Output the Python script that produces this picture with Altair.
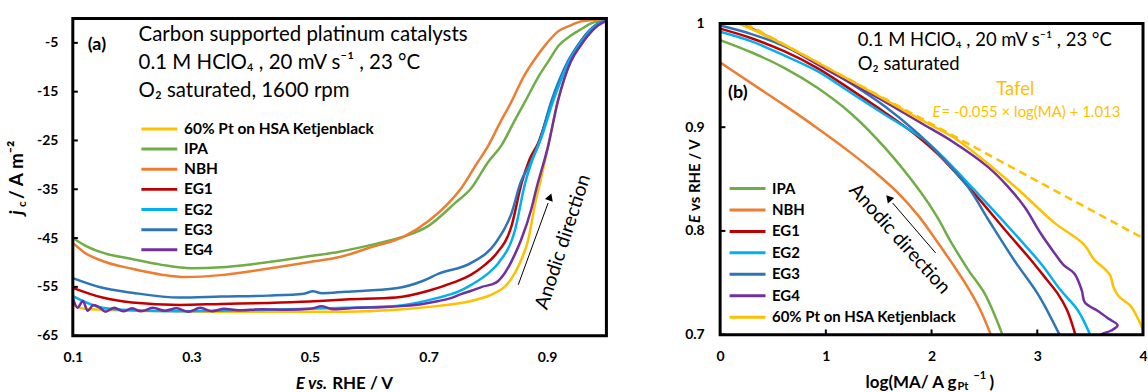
import altair as alt
import pandas as pd

FONT = "Lato"
C_PT, C_IPA, C_NBH = "#FFC000", "#70AD47", "#ED7D31"
C_EG1, C_EG2, C_EG3, C_EG4 = "#C00000", "#00B0F0", "#2E75B6", "#7030A0"
PT = "60% Pt on HSA Ketjenblack"

# ---------------- panel (a): E vs. RHE / V  and  j_c / A m^-2 ----------------
a_IPA_E = [0.100, 0.120, 0.150, 0.200, 0.250, 0.300, 0.350, 0.400, 0.450, 0.500, 0.550, 0.600, 0.650, 0.700,
           0.745, 0.772, 0.800, 0.823, 0.845, 0.863, 0.885, 0.902, 0.920, 0.940, 0.960, 0.974, 1.000]
a_IPA_j = [-45.0, -46.5, -48.0, -49.3, -50.5, -51.2, -51.0, -50.4, -49.6, -48.7, -47.8, -46.5, -45.0, -42.5,
           -37.8, -34.8, -29.5, -26.0, -21.0, -17.0, -12.0, -8.8, -5.5, -3.5, -2.0, -1.0, -0.3]
a_NBH_E = [0.100, 0.120, 0.150, 0.200, 0.250, 0.290, 0.350, 0.400, 0.450, 0.500, 0.550, 0.600, 0.660, 0.700,
           0.734, 0.755, 0.780, 0.801, 0.820, 0.840, 0.860, 0.880, 0.900, 0.918, 0.940, 0.957, 1.000]
a_NBH_j = [-46.0, -48.0, -49.7, -51.3, -52.5, -53.0, -52.6, -51.8, -50.9, -49.9, -48.9, -47.0, -44.6, -41.5,
           -37.8, -34.8, -30.0, -26.0, -21.5, -17.0, -12.0, -8.2, -5.0, -2.7, -1.4, -0.6, -0.1]
a_EG1_E = [0.100, 0.150, 0.200, 0.280, 0.350, 0.430, 0.500, 0.560, 0.645, 0.700, 0.740, 0.772, 0.795, 0.813,
           0.840, 0.857, 0.870, 0.885, 0.907, 0.935, 0.950, 0.964, 0.980, 1.000]
a_EG1_j = [-55.2, -57.2, -58.2, -58.7, -58.5, -58.3, -58.0, -57.6, -57.2, -55.8, -54.2, -52.5, -50.5, -48.4,
           -42.5, -33.7, -29.0, -25.5, -17.5, -9.0, -6.0, -3.5, -1.6, -0.4]
a_EG2_E = [0.100, 0.150, 0.200, 0.280, 0.350, 0.430, 0.500, 0.560, 0.645, 0.717, 0.750, 0.772, 0.800, 0.818,
           0.846, 0.863, 0.875, 0.890, 0.910, 0.937, 0.952, 0.966, 0.982, 1.000]
a_EG2_j = [-56.9, -59.3, -59.8, -60.0, -59.9, -59.7, -59.5, -59.3, -58.9, -57.2, -56.0, -54.6, -52.3, -50.1,
           -43.3, -33.7, -29.0, -24.5, -17.0, -8.8, -5.8, -3.5, -1.5, -0.4]
a_EG3_E = [0.100, 0.150, 0.200, 0.280, 0.350, 0.430, 0.490, 0.505, 0.520, 0.560, 0.645, 0.690, 0.717, 0.772,
           0.813, 0.840, 0.855, 0.870, 0.885, 0.907, 0.935, 0.950, 0.964, 0.980, 1.000]
a_EG3_j = [-53.2, -55.2, -56.2, -57.2, -57.0, -56.8, -56.4, -55.9, -56.3, -56.0, -55.3, -53.8, -52.3, -50.1,
           -46.0, -39.9, -33.7, -30.0, -26.0, -17.0, -8.8, -5.8, -3.5, -1.5, -0.3]
a_EG4_E = [0.100, 0.108, 0.117, 0.125, 0.135, 0.145, 0.155, 0.170, 0.185, 0.200, 0.215, 0.235, 0.255, 0.275,
           0.295, 0.315, 0.335, 0.355, 0.380, 0.420, 0.460, 0.500, 0.520, 0.540, 0.580, 0.620, 0.660, 0.690,
           0.717, 0.740, 0.755, 0.772, 0.790, 0.813, 0.829, 0.845, 0.856, 0.873, 0.882, 0.902, 0.918, 0.940,
           0.955, 0.969, 0.985, 1.000]
a_EG4_j = [-57.2, -59.3, -57.9, -59.9, -58.7, -59.2, -60.1, -59.3, -60.0, -59.4, -60.0, -59.3, -59.9, -59.4,
           -60.1, -59.3, -60.0, -59.5, -59.8, -59.6, -59.7, -59.5, -59.0, -59.6, -59.3, -59.2, -58.9, -58.5,
           -57.9, -57.2, -56.5, -55.8, -55.0, -54.2, -52.1, -48.5, -45.4, -39.2, -34.8, -26.0, -17.0, -8.8,
           -5.8, -3.5, -1.5, -0.5]
a_PT_E = [0.100, 0.120, 0.150, 0.200, 0.280, 0.350, 0.450, 0.560, 0.645, 0.717, 0.772, 0.813, 0.830, 0.846,
          0.858, 0.868, 0.881, 0.888, 0.902, 0.918, 0.940, 0.955, 0.969, 0.985, 1.000]
a_PT_j = [-58.7, -59.5, -59.7, -59.9, -60.0, -60.1, -60.1, -60.1, -59.7, -58.9, -57.9, -56.2, -54.8, -52.1,
          -49.0, -45.4, -37.2, -33.7, -26.0, -17.0, -8.8, -5.8, -3.5, -1.5, -0.5]

A_ORDER = [PT, "IPA", "NBH", "EG1", "EG2", "EG3", "EG4"]
A_COLORS = [C_PT, C_IPA, C_NBH, C_EG1, C_EG2, C_EG3, C_EG4]
A_X_TICKS = [0.1, 0.3, 0.5, 0.7, 0.9]
A_Y_TICKS = [-65, -55, -45, -35, -25, -15, -5]

# ---------------- panel (b): log(MA) and E vs RHE / V ----------------
b_IPA_L = [0.00, 0.30, 0.61, 0.92, 1.24, 1.56, 1.90, 2.05, 2.18, 2.35, 2.50, 2.60, 2.67]
b_IPA_E = [0.984, 0.972, 0.957, 0.938, 0.913, 0.880, 0.837, 0.814, 0.790, 0.762, 0.740, 0.718, 0.700]
b_NBH_L = [0.00, 0.30, 0.61, 0.92, 1.24, 1.46, 1.68, 1.88, 2.05, 2.20, 2.34, 2.46, 2.56]
b_NBH_E = [0.9625, 0.942, 0.921, 0.899, 0.875, 0.857, 0.837, 0.814, 0.790, 0.768, 0.746, 0.724, 0.700]
b_EG1_L = [0.00, 0.29, 0.61, 0.92, 1.24, 1.56, 1.87, 2.06, 2.37, 2.72, 2.94, 3.09, 3.19, 3.28, 3.36]
b_EG1_E = [0.995, 0.986, 0.973, 0.957, 0.936, 0.914, 0.891, 0.874, 0.840, 0.798, 0.772, 0.753, 0.740, 0.724, 0.700]
b_EG2_L = [0.00, 0.29, 0.61, 0.92, 1.24, 1.56, 1.93, 2.10, 2.40, 2.78, 3.03, 3.22, 3.38, 3.50]
b_EG2_E = [0.992, 0.983, 0.969, 0.954, 0.933, 0.912, 0.888, 0.872, 0.840, 0.798, 0.769, 0.743, 0.724, 0.700]
b_EG3_L = [0.00, 0.29, 0.61, 0.92, 1.24, 1.56, 1.87, 2.06, 2.34, 2.53, 2.78, 3.00, 3.10, 3.21]
b_EG3_E = [0.998, 0.990, 0.978, 0.962, 0.942, 0.920, 0.894, 0.875, 0.843, 0.812, 0.772, 0.740, 0.722, 0.700]
b_EG4_L = [0.19, 0.50, 1.00, 1.50, 1.90, 2.20, 2.53, 2.72, 2.88, 3.03, 3.16, 3.25, 3.35, 3.42, 3.45, 3.57,
           3.68, 3.76, 3.70, 3.62, 3.60]
b_EG4_E = [1.000, 0.985, 0.956, 0.928, 0.904, 0.886, 0.862, 0.843, 0.823, 0.798, 0.779, 0.767, 0.759, 0.743,
           0.731, 0.723, 0.715, 0.709, 0.704, 0.701, 0.700]
b_PT_L = [0.17, 0.50, 1.00, 1.50, 1.90, 2.21, 2.53, 2.84, 3.16, 3.44, 3.54, 3.62, 3.69, 3.72, 3.77, 3.88, 3.94, 4.00]
b_PT_E = [1.000, 0.985, 0.958, 0.930, 0.907, 0.890, 0.865, 0.838, 0.808, 0.787, 0.772, 0.765, 0.757, 0.746,
          0.737, 0.728, 0.718, 0.705]
b_TAFEL_L = [0.24, 4.00]
b_TAFEL_E = [1.000, 0.793]

B_ORDER = ["IPA", "NBH", "EG1", "EG2", "EG3", "EG4", PT]
B_COLORS = [C_IPA, C_NBH, C_EG1, C_EG2, C_EG3, C_EG4, C_PT]
B_X_TICKS = [0, 1, 2, 3, 4]
B_Y_TICKS = [0.7, 0.8, 0.9, 1.0]


def long_df(series, xname, yname):
    rows = []
    for name, (xs, ys) in series.items():
        for i, (x, y) in enumerate(zip(xs, ys)):
            rows.append({"series": name, xname: x, yname: y, "idx": i})
    return pd.DataFrame(rows)


ONE = pd.DataFrame({"a": [0]})
LBL = dict(labelFont=FONT, labelFontSize=14, labelFontWeight="bold", labelColor="black", labelFlush=False,
           labelOverlap=False, title=None, grid=False, domain=False, ticks=False)

# ======================= panel (a) =======================
df_a = long_df({PT: (a_PT_E, a_PT_j), "IPA": (a_IPA_E, a_IPA_j), "NBH": (a_NBH_E, a_NBH_j),
                "EG1": (a_EG1_E, a_EG1_j), "EG3": (a_EG3_E, a_EG3_j), "EG2": (a_EG2_E, a_EG2_j),
                "EG4": (a_EG4_E, a_EG4_j)}, "E", "j")

XA = alt.Scale(domain=[0.1, 1.0], nice=False, zero=False)
YA = alt.Scale(domain=[-65, 0], nice=False, zero=False)
AX_XA = alt.Axis(values=A_X_TICKS, format=".1f", labelPadding=15, **LBL)
AX_YA = alt.Axis(values=A_Y_TICKS, labelExpr="'' + datum.value", labelPadding=15, **LBL)


def xa(f):
    return alt.X(f, type="quantitative", scale=XA, axis=AX_XA)


def ya(f):
    return alt.Y(f, type="quantitative", scale=YA, axis=AX_YA)


leg_a = alt.Legend(orient="none", legendX=79, legendY=103, title=None, symbolType="M-3,0L3,0",
                   symbolSize=144, symbolStrokeWidth=3, labelFont=FONT, labelFontSize=15.5,
                   labelFontWeight="bold", labelColor="black", labelOffset=17, rowPadding=3.2, padding=0,
                   labelLimit=400)

lines_a = alt.Chart(df_a).mark_line(strokeWidth=2.5, interpolate="monotone").encode(
    x=xa("E"), y=ya("j"),
    color=alt.Color("series:N", scale=alt.Scale(domain=A_ORDER, range=A_COLORS), legend=leg_a),
    order=alt.Order("idx:Q"))

frame_a = alt.Chart(ONE).mark_rect(fill="transparent", stroke="black", strokeWidth=3).encode(
    x=alt.datum(0.1), x2=alt.datum(1.0), y=alt.datum(-65), y2=alt.datum(0))

ticks_a = alt.Chart(pd.DataFrame({"v": A_Y_TICKS})).mark_rule(color="black", strokeWidth=2).encode(
    x=alt.datum(0.1), x2=alt.datum(0.1085), y=ya("v"))

txt_a = pd.DataFrame({"x": [0.2109, 0.2109, 0.2109], "y": [-3.47, -9.20, -14.92],
                      "t": ["Carbon supported platinum catalysts", "0.1 M HClO₄ , 20 mV s⁻¹ , 23 °C",
                            "O₂ saturated, 1600 rpm"]})
notes_a = alt.Chart(txt_a).mark_text(align="left", baseline="middle", font=FONT, fontSize=20.5,
                                     color="black").encode(x=xa("x"), y=ya("y"), text="t:N")
label_a = alt.Chart(pd.DataFrame({"x": [0.1252], "y": [-5.52], "t": ["(a)"]})).mark_text(
    align="left", baseline="middle", font=FONT, fontSize=18, fontWeight="bold", color="black").encode(
    x=xa("x"), y=ya("y"), text="t:N")
anodic_a = alt.Chart(pd.DataFrame({"x": [0.9269], "y": [-45.79], "t": ["Anodic direction"]})).mark_text(
    align="center", baseline="middle", font=FONT, fontSize=19.5, angle=288, color="black").encode(
    x=xa("x"), y=ya("y"), text="t:N")
arrow_a = alt.Chart(pd.DataFrame({"x": [0.8513], "y": [-54.58], "x2": [0.9017], "y2": [-37.81]})).mark_rule(
    color="black", strokeWidth=1).encode(x=xa("x"), y=ya("y"), x2="x2", y2="y2")
head_a = alt.Chart(pd.DataFrame({"x": [0.9050], "y": [-36.59]})).mark_point(
    shape="triangle-up", filled=True, color="black", opacity=1, size=70, angle=20).encode(x=xa("x"), y=ya("y"))

tstyle = dict(font=FONT, fontWeight="bold", color="black", baseline="middle")
ytitle_a = [
    alt.Chart(ONE).mark_text(text="j", angle=270, align="left", fontSize=19, fontStyle="italic", **tstyle).encode(
        x=alt.value(-56), y=alt.value(197)),
    alt.Chart(ONE).mark_text(text="c", angle=270, align="left", fontSize=12, **tstyle).encode(
        x=alt.value(-51), y=alt.value(189)),
    alt.Chart(ONE).mark_text(text="/ A m⁻²", angle=270, align="left", fontSize=19, **tstyle).encode(
        x=alt.value(-56), y=alt.value(181)),
]
xtitle_a = [
    alt.Chart(ONE).mark_text(text="E vs.", align="right", fontSize=17, fontStyle="italic", **tstyle).encode(
        x=alt.value(255), y=alt.value(366)),
    alt.Chart(ONE).mark_text(text="RHE / V", align="left", fontSize=17, **tstyle).encode(
        x=alt.value(260), y=alt.value(366)),
]

left = alt.layer(lines_a, frame_a, ticks_a, notes_a, label_a, anodic_a, arrow_a, head_a,
                 *ytitle_a, *xtitle_a).properties(width=535, height=318)

# ======================= panel (b) =======================
df_b = long_df({"IPA": (b_IPA_L, b_IPA_E), "NBH": (b_NBH_L, b_NBH_E), "EG1": (b_EG1_L, b_EG1_E),
                "EG2": (b_EG2_L, b_EG2_E), "EG3": (b_EG3_L, b_EG3_E), "EG4": (b_EG4_L, b_EG4_E),
                PT: (b_PT_L, b_PT_E)}, "L", "E")
df_tafel = pd.DataFrame({"L": b_TAFEL_L, "E": b_TAFEL_E})

XB = alt.Scale(domain=[0, 4], nice=False, zero=False)
YB = alt.Scale(domain=[0.7, 1.0], nice=False, zero=False, range=[317, 5])
AX_XB = alt.Axis(values=B_X_TICKS, format="d", labelPadding=15, **LBL)
AX_YB = alt.Axis(values=B_Y_TICKS, labelExpr="'' + datum.value", labelPadding=16, **LBL)


def xb(f):
    return alt.X(f, type="quantitative", scale=XB, axis=AX_XB)


def yb(f):
    return alt.Y(f, type="quantitative", scale=YB, axis=AX_YB)


leg_b = alt.Legend(orient="none", legendX=20, legendY=163, title=None, symbolType="M-3,0L3,0",
                   symbolSize=144, symbolStrokeWidth=3, labelFont=FONT, labelFontSize=15,
                   labelFontWeight="bold", labelColor="black", labelOffset=17, rowPadding=5.5, padding=0,
                   labelLimit=400)

lines_b = alt.Chart(df_b).mark_line(strokeWidth=2.5, interpolate="catmull-rom").encode(
    x=xb("L"), y=yb("E"),
    color=alt.Color("series:N", scale=alt.Scale(domain=B_ORDER, range=B_COLORS), legend=leg_b),
    order=alt.Order("idx:Q"))
tafel_b = alt.Chart(df_tafel).mark_line(strokeWidth=2.5, strokeDash=[8, 5], color=C_PT).encode(
    x=xb("L"), y=yb("E"))

frame_b = alt.Chart(ONE).mark_rect(fill="transparent", stroke="black", strokeWidth=3).encode(
    x=alt.datum(0), x2=alt.datum(4), y=alt.datum(0.7), y2=alt.datum(1.0))
yticks_b = alt.Chart(pd.DataFrame({"v": B_Y_TICKS})).mark_rule(color="black", strokeWidth=2).encode(
    x=alt.datum(0), x2=alt.datum(0.05), y=yb("v"))
xticks_b = alt.Chart(pd.DataFrame({"v": B_X_TICKS})).mark_rule(color="black", strokeWidth=2).encode(
    x=xb("v"), y=alt.datum(0.7), y2=alt.datum(0.705))

txt_b = pd.DataFrame({"x": [1.302, 1.302], "y": [0.9837, 0.9606],
                      "t": ["0.1 M HClO₄ , 20 mV s⁻¹ , 23 °C", "O₂ saturated"]})
notes_b = alt.Chart(txt_b).mark_text(align="left", baseline="middle", font=FONT, fontSize=18.5,
                                     color="black").encode(x=xb("x"), y=yb("y"), text="t:N")
label_b = alt.Chart(pd.DataFrame({"x": [0.0755], "y": [0.9327], "t": ["(b)"]})).mark_text(
    align="left", baseline="middle", font=FONT, fontSize=18, fontWeight="bold", color="black").encode(
    x=xb("x"), y=yb("y"), text="t:N")
tafel_t = alt.Chart(pd.DataFrame({"x": [2.792], "y": [0.9365], "t": ["Tafel"]})).mark_text(
    align="center", baseline="middle", font=FONT, fontSize=18.5, color=C_PT).encode(
    x=xb("x"), y=yb("y"), text="t:N")
eq_e = alt.Chart(pd.DataFrame({"x": [2.009], "y": [0.9144], "t": ["E"]})).mark_text(
    align="left", baseline="middle", font=FONT, fontSize=15, fontStyle="italic", color=C_PT).encode(
    x=xb("x"), y=yb("y"), text="t:N")
eq_rest = alt.Chart(pd.DataFrame({"x": [2.094], "y": [0.9144], "t": ["= -0.055 × log(MA) + 1.013"]})).mark_text(
    align="left", baseline="middle", font=FONT, fontSize=15, color=C_PT).encode(
    x=xb("x"), y=yb("y"), text="t:N")
anodic_b = alt.Chart(pd.DataFrame({"x": [1.698], "y": [0.7923], "t": ["Anodic direction"]})).mark_text(
    align="center", baseline="middle", font=FONT, fontSize=19.5, angle=48, color="black").encode(
    x=xb("x"), y=yb("y"), text="t:N")
arrow_b = alt.Chart(pd.DataFrame({"x": [2.038], "y": [0.7788], "x2": [1.632], "y2": [0.8269]})).mark_rule(
    color="black", strokeWidth=1).encode(x=xb("x"), y=yb("y"), x2="x2", y2="y2")
head_b = alt.Chart(pd.DataFrame({"x": [1.594], "y": [0.8317]})).mark_point(
    shape="triangle-up", filled=True, color="black", opacity=1, size=70, angle=319).encode(x=xb("x"), y=yb("y"))

ytitle_b = [
    alt.Chart(ONE).mark_text(text="E", angle=270, align="left", fontSize=15, fontStyle="italic", **tstyle).encode(
        x=alt.value(-25), y=alt.value(205)),
    alt.Chart(ONE).mark_text(text="vs RHE / V", angle=270, align="left", fontSize=15, **tstyle).encode(
        x=alt.value(-25), y=alt.value(193)),
]
xtitle_b = [
    alt.Chart(ONE).mark_text(text="log(MA/ A g", align="right", fontSize=17, **tstyle).encode(
        x=alt.value(237), y=alt.value(365)),
    alt.Chart(ONE).mark_text(text="Pt", align="left", fontSize=11, **tstyle).encode(
        x=alt.value(238), y=alt.value(370)),
    alt.Chart(ONE).mark_text(text="−1", align="left", fontSize=11, **tstyle).encode(
        x=alt.value(254), y=alt.value(358)),
    alt.Chart(ONE).mark_text(text=")", align="left", fontSize=17, **tstyle).encode(
        x=alt.value(270), y=alt.value(365)),
]

right = alt.layer(lines_b, tafel_b, frame_b, yticks_b, xticks_b, notes_b, label_b, tafel_t, eq_e, eq_rest,
                  anodic_b, arrow_b, head_b, *ytitle_b, *xtitle_b).properties(width=424, height=317)

chart = alt.hconcat(left, right, spacing=114, bounds="flush").resolve_scale(
    color="independent").configure_view(strokeWidth=0).properties(
    padding={"left": 8, "top": 13, "right": 0, "bottom": 3})

chart.save("out.html", embed_options={"renderer": "svg", "actions": False})
